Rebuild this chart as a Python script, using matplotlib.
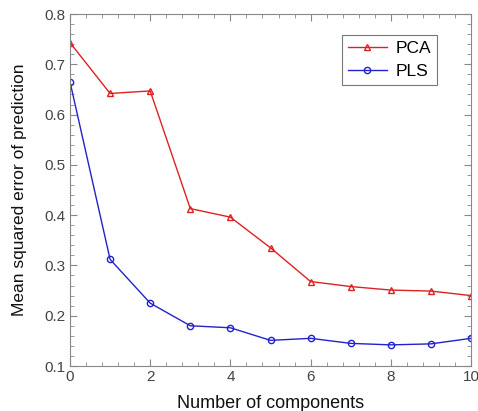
import numpy as np
import matplotlib.pyplot as plt
from matplotlib.ticker import MultipleLocator

plt.rcParams['font.family'] = ['Liberation Sans', 'DejaVu Sans']

# data
components = [0, 1, 2, 3, 4, 5, 6, 7, 8, 9, 10]
pca_mse = [0.743, 0.642, 0.647, 0.413, 0.396, 0.335, 0.268, 0.258, 0.251, 0.249, 0.240]
pls_mse = [0.665, 0.312, 0.225, 0.180, 0.176, 0.151, 0.155, 0.145, 0.142, 0.144, 0.155]
ytick_labels = ["0.1", "0.2", "0.3", "0.4", "0.5", "0.6", "0.7", "0.8"]

fig = plt.figure(figsize=(4.78, 4.11), dpi=100)
ax = fig.add_axes([70 / 478, 1 - 366 / 411, 401 / 478, 352 / 411])

ax.plot(components, pca_mse, color="#dd2222", lw=1.0, marker="^", ms=4.5,
        mfc="none", mec="#dd2222", mew=1.0, label="PCA")
ax.plot(components, pls_mse, color="#2222cc", lw=1.0, marker="o", ms=4.5,
        mfc="none", mec="#2222cc", mew=1.0, label="PLS")

ax.set_xlim(0, 10)
ax.set_ylim(0.1, 0.8)
ax.xaxis.set_major_locator(MultipleLocator(2))
ax.xaxis.set_minor_locator(MultipleLocator(0.4))
ax.yaxis.set_minor_locator(MultipleLocator(0.02))
ax.set_yticks(np.arange(0.1, 0.81, 0.1))
ax.set_yticklabels(ytick_labels)

for s in ax.spines.values():
    s.set_color("#888888")
    s.set_linewidth(0.8)
ax.tick_params(which="both", direction="in", top=True, right=True,
               colors="#888888", labelcolor="#444444", labelsize=11)
ax.tick_params(which="major", length=5, width=0.8)
ax.tick_params(which="minor", length=3, width=0.6)
ax.tick_params(axis="x", pad=3)

ax.set_xlabel("Number of components", fontsize=13, color="#111111", labelpad=8)
ax.set_ylabel("Mean squared error of prediction", fontsize=12.5, color="#111111", labelpad=12)

leg = ax.legend(loc="upper right", bbox_to_anchor=(0.915, 0.94), borderaxespad=0,
                fontsize=12.5, fancybox=False, edgecolor="#555555",
                handlelength=2.2, handletextpad=0.5, borderpad=0.35,
                labelspacing=0.45)
leg.get_frame().set_linewidth(0.8)

fig.savefig("out.png", dpi=100)
